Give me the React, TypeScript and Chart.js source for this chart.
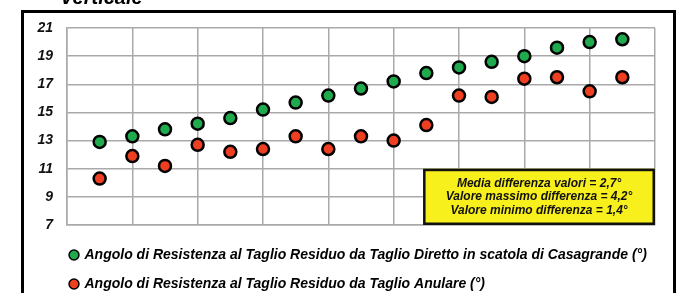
import React, { useEffect, useRef } from 'react';
import { Chart, registerables } from 'chart.js';

Chart.register(...registerables);

// ---- data ----
const samples = [1, 2, 3, 4, 5, 6, 7, 8, 9, 10, 11, 12, 13, 14, 15, 16, 17];
const diretto = [12.9, 13.3, 13.8, 14.2, 14.6, 15.2, 15.7, 16.2, 16.7, 17.2, 17.8, 18.2, 18.6, 19.0, 19.6, 20.0, 20.2];
const anulare = [10.3, 11.9, 11.2, 12.7, 12.2, 12.4, 13.3, 12.4, 13.3, 13.0, 14.1, 16.2, 16.1, 17.4, 17.5, 16.5, 17.5];
const seriesNames = [
  'Angolo di Resistenza al Taglio Residuo da Taglio Diretto in scatola di Casagrande (°)',
  'Angolo di Resistenza al Taglio Residuo da Taglio Anulare (°)',
];
const yTickValues = [7, 9, 11, 13, 15, 17, 19, 21];
const noteLines = [
  'Media differenza valori = 2,7°',
  'Valore massimo differenza = 4,2°',
  'Valore minimo differenza = 1,4°',
];
const titleText = 'Verticale';

const FONT = "'Liberation Sans', Arial, sans-serif";
const GREEN = '#1fab4d';
const RED = '#ef3f22';
const GRID = '#a9a9a9';

const notePlugin = {
  id: 'notePlugin',
  beforeDraw(chart: any) {
    const lg = chart.legend;
    if (lg) {
      lg.left = 55.5;
      lg.top = 233;
    }
  },
  afterDraw(chart: any) {
    const { ctx, scales } = chart;
    const xs = scales.x;
    const ys = scales.y;
    // title (cut at the top)
    ctx.save();
    ctx.fillStyle = '#000';
    ctx.font = `italic bold 20px ${FONT}`;
    ctx.textAlign = 'left';
    ctx.textBaseline = 'alphabetic';
    ctx.fillText(titleText, 60, 4);
    ctx.restore();

    // note box
    const x0 = xs.getPixelForValue(10.9);
    const x1 = xs.getPixelForValue(18);
    const y0 = ys.getPixelForValue(11);
    const y1 = ys.getPixelForValue(7);
    ctx.save();
    ctx.fillStyle = '#f8f01c';
    ctx.fillRect(x0, y0, x1 - x0, y1 - y0);
    ctx.lineWidth = 2.5;
    ctx.strokeStyle = '#111';
    ctx.strokeRect(x0 + 1.25, y0 + 1.25, x1 - x0 - 2.5, y1 - y0 - 2.5);
    ctx.fillStyle = '#111';
    ctx.font = `italic bold 12px ${FONT}`;
    ctx.textAlign = 'center';
    ctx.textBaseline = 'middle';
    const cx = (x0 + x1) / 2;
    const cy = (y0 + y1) / 2;
    const lh = 13.4;
    noteLines.forEach((t, i) => {
      ctx.fillText(t, cx, cy + (i - (noteLines.length - 1) / 2) * lh);
    });
    ctx.restore();
  },
};

export default function App() {
  const ref = useRef<HTMLCanvasElement | null>(null);

  useEffect(() => {
    if (!ref.current) return;
    const chart = new Chart(ref.current, {
      type: 'scatter',
      data: {
        datasets: [
          {
            label: seriesNames[0],
            data: samples.map((s, i) => ({ x: s, y: diretto[i] })),
            backgroundColor: GREEN,
            borderColor: '#000',
            pointRadius: 6,
            pointBorderWidth: 2.5,
            pointHoverRadius: 6,
          },
          {
            label: seriesNames[1],
            data: samples.map((s, i) => ({ x: s, y: anulare[i] })),
            backgroundColor: RED,
            borderColor: '#000',
            pointRadius: 6,
            pointBorderWidth: 2.5,
            pointHoverRadius: 6,
          },
        ],
      },
      options: {
        animation: false,
        responsive: false,
        maintainAspectRatio: false,
        layout: { padding: { left: 22, right: 23, top: 28, bottom: 0 } },
        plugins: {
          tooltip: { enabled: false },
          title: { display: false },
          legend: {
            display: true,
            position: 'bottom',
            align: 'start',
            labels: {
              usePointStyle: true,
              boxWidth: 7,
              boxHeight: 7,
              padding: 15,
              color: '#000',
              font: { family: FONT, size: 14, style: 'italic', weight: 'bold' },
              generateLabels: (ch: any) =>
                ch.data.datasets.map((ds: any, i: number) => ({
                  text: ds.label,
                  fillStyle: ds.backgroundColor,
                  strokeStyle: '#000',
                  lineWidth: 1.5,
                  pointStyle: 'circle',
                  hidden: false,
                  datasetIndex: i,
                  fontColor: '#000',
                })),
            },
          },
        },
        scales: {
          x: {
            type: 'linear',
            min: 0,
            max: 18,
            ticks: { stepSize: 2, display: false },
            grid: { color: GRID, lineWidth: 1.5, drawTicks: false },
            border: { color: GRID, width: 1.5 },
            afterFit: (s: any) => {
              s.height = 0;
            },
          },
          y: {
            type: 'linear',
            min: 7,
            max: 21,
            afterBuildTicks: (s: any) => {
              s.ticks = yTickValues.map((v) => ({ value: v }));
            },
            ticks: {
              stepSize: 2,
              padding: 14,
              color: '#111',
              font: { family: FONT, size: 14, style: 'italic', weight: 'bold' },
            },
            grid: { color: GRID, lineWidth: 1.5, drawTicks: false },
            border: { color: GRID, width: 1.5 },
            afterFit: (s: any) => {
              s.width = 45;
            },
          },
        },
      },
      plugins: [notePlugin],
    });
    return () => chart.destroy();
  }, []);

  return (
    <div
      style={{
        position: 'absolute',
        left: 0,
        top: 0,
        width: 678,
        height: 293,
        overflow: 'hidden',
        background: '#fff',
      }}
    >
      <div
        style={{
          position: 'absolute',
          left: 21,
          top: 10,
          width: 655,
          height: 320,
          border: '3px solid #000',
          boxSizing: 'border-box',
        }}
      />
      <canvas
        ref={ref}
        width={678}
        height={293}
        style={{ position: 'absolute', left: 0, top: 0, width: 678, height: 293 }}
      />
    </div>
  );
}
